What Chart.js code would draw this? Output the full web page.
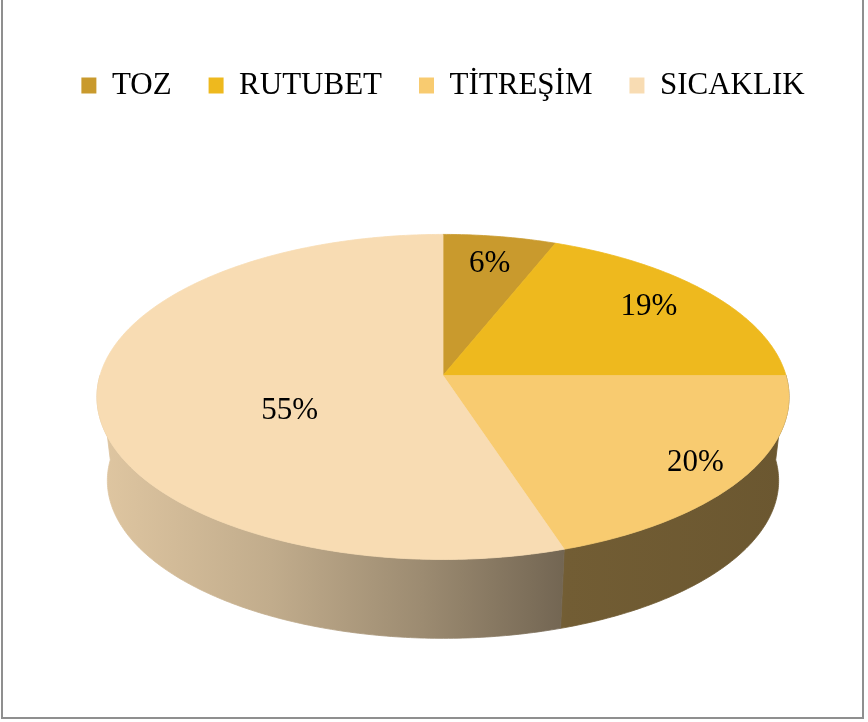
<!doctype html>
<html lang="tr">
  <head>
    <meta charset="utf-8">
    <title>Arıza nedenleri</title>
    <style>
      * {
        margin: 0;
        padding: 0;
      }
      body {
        background: white;
      }
      .chartCard {
        position: relative;
        width: 868px;
        height: 722px;
        overflow: hidden;
        background: white;
      }
      .frame {
        position: absolute;
        left: 1px;
        top: -6px;
        width: 863px;
        height: 725px;
        box-sizing: border-box;
        border: 2px solid #8f8f8f;
        pointer-events: none;
      }
    </style>
  </head>
  <body>
    <div class="chartCard">
      <canvas id="myChart"></canvas>
      <div class="frame"></div>
    </div>
    <script src="https://cdn.jsdelivr.net/npm/chart.js"></script>
    <script>
    // setup
    const categories = ['TOZ', 'RUTUBET', 'TİTREŞİM', 'SICAKLIK'];
    const shares = [6, 19, 20, 55];
    const sliceColors = ['#C99A2D', '#EEB91E', '#F8CB70', '#F8DCB3'];

    const serif = '"Liberation Serif", "Times New Roman", serif';

    // tilted pie: back edge shrinks, front edge grows (simple perspective)
    const tilt = { ry: 0.4656, persp: 0.132, depth: 0.246, shrink: 0.97 };
    // label spot per slice: fraction of radius, shift of angle in degrees
    const labelSpot = [[0.8, 0], [0.79, -2], [0.85, 0], [0.48, -16]];
    // side wall shading from left to right (fraction of base colour)
    const sideShade = [[0, 0.9], [0.25, 0.78], [0.47, 0.63], [0.68, 0.46], [1, 0.43]];

    function shade(hex, f) {
      const n = parseInt(hex.slice(1), 16);
      const r = Math.round(((n >> 16) & 255) * f);
      const g = Math.round(((n >> 8) & 255) * f);
      const b = Math.round((n & 255) * f);
      return `rgb(${r},${g},${b})`;
    }

    const pie3d = {
      id: 'pie3d',
      beforeDatasetsDraw(chart) {
        const ctx = chart.ctx;
        const arcs = chart.getDatasetMeta(0).data;
        const colors = chart.data.datasets[0].backgroundColor;
        const R = arcs[0].outerRadius;
        const cx = arcs[0].x;
        const cy = arcs[0].y;
        const A = R, B = R * tilt.ry, D = R * tilt.depth;

        // th: clockwise from 12 o'clock, level 0 = top face, 1 = bottom rim
        const pt = (th, level) => {
          const u = Math.sin(th), v = -Math.cos(th);
          const w = 1 - tilt.persp * v;
          const s = level ? tilt.shrink : 1;
          return [cx + A * s * u / w, cy + level * D + B * s * v / w];
        };
        const steps = (a, b) => Math.max(2, Math.ceil((b - a) * 80));

        // side walls, only the front half is visible
        arcs.forEach((arc, i) => {
          const a = Math.max(arc.startAngle + Math.PI / 2, Math.PI / 2);
          const b = Math.min(arc.endAngle + Math.PI / 2, Math.PI * 1.5);
          if (b <= a) return;
          const n = steps(a, b);
          ctx.beginPath();
          for (let k = 0; k <= n; k++) {
            const p = pt(a + (b - a) * k / n, 0);
            k ? ctx.lineTo(p[0], p[1]) : ctx.moveTo(p[0], p[1]);
          }
          for (let k = n; k >= 0; k--) {
            const p = pt(a + (b - a) * k / n, 1);
            ctx.lineTo(p[0], p[1]);
          }
          ctx.closePath();
          const grad = ctx.createLinearGradient(cx - A, 0, cx + A, 0);
          sideShade.forEach(([at, f]) => grad.addColorStop(at, shade(colors[i], f)));
          ctx.fillStyle = grad;
          ctx.strokeStyle = grad;
          ctx.lineWidth = 0.8;
          ctx.fill();
          ctx.stroke();
        });

        // top faces
        arcs.forEach((arc, i) => {
          const a = arc.startAngle + Math.PI / 2;
          const b = arc.endAngle + Math.PI / 2;
          const n = steps(a, b);
          ctx.beginPath();
          ctx.moveTo(cx, cy);
          for (let k = 0; k <= n; k++) {
            const p = pt(a + (b - a) * k / n, 0);
            ctx.lineTo(p[0], p[1]);
          }
          ctx.closePath();
          ctx.fillStyle = colors[i];
          ctx.strokeStyle = colors[i];
          ctx.lineWidth = 0.8;
          ctx.fill();
          ctx.stroke();
        });

        // percentage labels
        const total = chart.data.datasets[0].data.reduce((s, x) => s + x, 0);
        ctx.font = `31px ${serif}`;
        ctx.fillStyle = '#000';
        ctx.textAlign = 'center';
        ctx.textBaseline = 'middle';
        arcs.forEach((arc, i) => {
          const [fr, shift] = labelSpot[i];
          const th = (arc.startAngle + arc.endAngle) / 2 + Math.PI / 2 + shift * Math.PI / 180;
          const u = fr * Math.sin(th), v = -fr * Math.cos(th);
          const w = 1 - tilt.persp * v;
          const value = chart.data.datasets[0].data[i];
          ctx.fillText(Math.round(value / total * 100) + '%', cx + A * u / w, cy + B * v / w + 2);
        });
        return false;
      }
    };

    const data = {
      labels: categories,
      datasets: [{
        data: shares,
        backgroundColor: sliceColors,
        borderWidth: 0,
        radius: 343
      }]
    };

    // config
    const config = {
      type: 'pie',
      data,
      options: {
        responsive: true,
        maintainAspectRatio: false,
        animation: false,
        layout: {
          padding: { top: 33, left: 18, right: 0, bottom: 82 }
        },
        plugins: {
          tooltip: { enabled: false },
          legend: {
            position: 'top',
            labels: {
              color: '#000',
              boxWidth: 15,
              boxHeight: 16,
              padding: 37,
              font: { family: serif, size: 31 }
            }
          }
        }
      },
      plugins: [pie3d]
    };

    // render init block
    const myChart = new Chart(
      document.getElementById('myChart'),
      config
    );
    </script>
  </body>
</html>
